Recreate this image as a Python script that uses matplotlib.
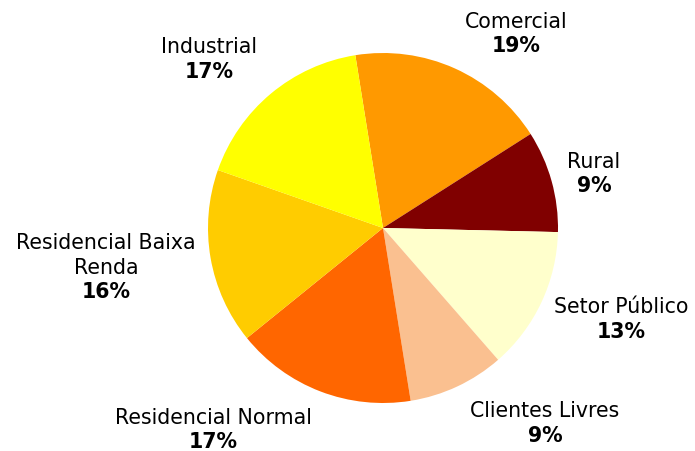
import matplotlib.pyplot as plt

# Consumo por classe (%), em ordem horaria a partir do topo
classes = ['Comercial', 'Rural', 'Setor Público', 'Clientes Livres',
           'Residencial Normal', 'Residencial Baixa\nRenda', 'Industrial']
valores = [18.5, 9.4, 13.2, 8.9, 16.7, 16.2, 17.1]
rotulos = ['19%', '9%', '13%', '9%', '17%', '16%', '17%']
cores = ['#FF9900', '#800000', '#FFFFCC', '#FAC090',
         '#FF6600', '#FFCC00', '#FFFF00']

# centro da primeira linha de cada rotulo (px, a partir do topo)
pos_texto = [(516, 22), (594, 162), (621, 307), (545, 411),
             (213, 418), (106, 243), (209, 47)]
passo = 24.5  # distancia entre linhas em px

fig = plt.figure(figsize=(6.95, 4.51), dpi=100)
ax = fig.add_axes([0, 0, 1, 1])
ax.pie(valores, colors=cores, startangle=99.1, counterclock=False,
       center=(383, 223), radius=175, frame=True)
ax.set_xlim(0, 695)
ax.set_ylim(0, 451)
ax.set_aspect('equal')
ax.axis('off')

for nome, rot, (x, y) in zip(classes, rotulos, pos_texto):
    linhas = nome.split('\n')
    for i, linha in enumerate(linhas):
        ax.text(x, 451 - (y + i * passo), linha, ha='center', va='center',
                fontsize=14.8)
    ax.text(x, 451 - (y + len(linhas) * passo), rot, ha='center',
            va='center', fontsize=14.8, fontweight='bold')

fig.savefig('out.png', dpi=100)
